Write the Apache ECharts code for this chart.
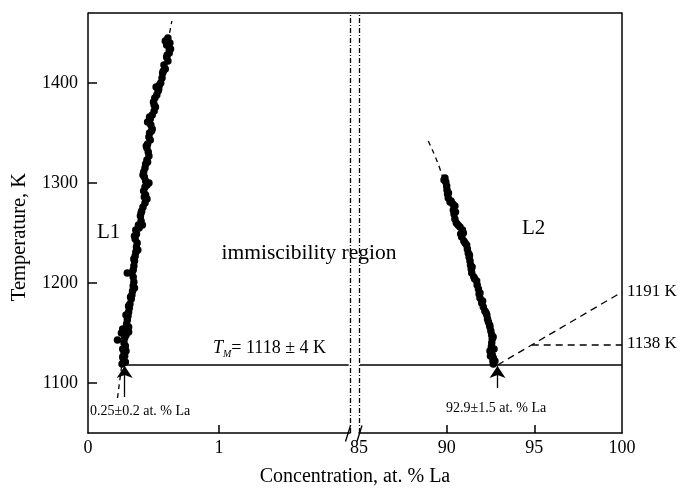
<!DOCTYPE html>
<html>
<head>
<meta charset="utf-8">
<script src="https://cdn.jsdelivr.net/npm/echarts@6/dist/echarts.min.js"></script>
<style>
  html, body { margin: 0; padding: 0; background: #fff; }
  #main { width: 681px; height: 492px; }
</style>
</head>
<body>
<div id="main"></div>
<script>
// L1 measured points (left, Sb-rich side)
var l1Conc = [0.61, 0.59, 0.60, 0.63, 0.62, 0.60, 0.61, 0.58, 0.59, 0.57, 0.565, 0.555, 0.545, 0.52, 0.535, 0.525, 0.51, 0.50, 0.515, 0.505,
  0.49, 0.475, 0.455, 0.48, 0.49, 0.47, 0.465, 0.475, 0.455, 0.45, 0.46, 0.465, 0.45, 0.44, 0.435, 0.425, 0.43, 0.44, 0.465, 0.435,
  0.425, 0.44, 0.45, 0.435, 0.42, 0.41, 0.40, 0.405, 0.415, 0.39, 0.365, 0.37, 0.36, 0.375, 0.37, 0.365, 0.36, 0.355, 0.35, 0.345,
  0.30, 0.345, 0.35, 0.345, 0.34, 0.335, 0.33, 0.32, 0.315, 0.31, 0.305, 0.30, 0.295, 0.265, 0.31, 0.29, 0.225, 0.275, 0.285, 0.265,
  0.275, 0.28, 0.27, 0.285, 0.26,
  0.625, 0.605, 0.575, 0.54, 0.505, 0.47, 0.485, 0.445, 0.455, 0.42, 0.45, 0.43, 0.405, 0.385, 0.355, 0.38, 0.35, 0.335, 0.355, 0.325,
  0.31, 0.29, 0.31, 0.255, 0.28, 0.29, 0.265];
var l1Temp = [1445, 1442, 1438, 1434, 1430, 1426, 1422, 1418, 1414, 1410, 1405, 1400, 1398, 1396, 1392, 1388, 1385, 1381, 1376, 1372,
  1368, 1364, 1361, 1358, 1354, 1350, 1346, 1343, 1339, 1335, 1331, 1327, 1323, 1319, 1315, 1311, 1306, 1302, 1300, 1296,
  1292, 1288, 1284, 1280, 1276, 1272, 1267, 1262, 1258, 1255, 1253, 1249, 1244, 1240, 1236, 1231, 1227, 1222, 1217, 1213,
  1210, 1206, 1201, 1197, 1192, 1188, 1184, 1179, 1175, 1171, 1167, 1163, 1159, 1154, 1151, 1148, 1143, 1140, 1137, 1134,
  1130, 1127, 1124, 1121, 1119,
  1440, 1428, 1412, 1394, 1378, 1366, 1352, 1337, 1321, 1308, 1298, 1286, 1270, 1258, 1247, 1233, 1224, 1210, 1195, 1186,
  1177, 1168, 1156, 1150, 1145, 1132, 1126];
// L1 liquidus curve (dashed)
var l1FitConc = [0.225, 0.255, 0.30, 0.335, 0.37, 0.41, 0.44, 0.47, 0.51, 0.56, 0.60, 0.64];
var l1FitTemp = [1085, 1115, 1160, 1200, 1240, 1275, 1310, 1350, 1385, 1410, 1435, 1462];

// L2 measured points (right, La-rich side)
var l2Conc = [89.90, 89.95, 90.00, 90.02, 90.05, 90.09, 90.19, 90.35, 90.47, 90.38, 90.42, 90.47, 90.55, 90.76, 90.90, 90.95, 90.86, 90.98, 91.14, 91.18,
  91.23, 91.28, 91.33, 91.36, 91.40, 91.43, 91.55, 91.71, 91.74, 91.81, 91.85, 91.90, 92.00, 92.09, 92.18, 92.29, 92.33, 92.38, 92.47, 92.52,
  92.57, 92.60, 92.57, 92.55, 92.47, 92.60, 92.66, 92.64, 92.66,
  89.85, 90.10, 90.25, 90.50, 90.65, 90.80, 91.05, 91.30, 91.45, 91.60, 91.90, 92.05, 92.25, 92.45, 92.65, 92.70, 92.50, 92.75];
var l2Temp = [1305, 1301, 1297, 1293, 1289, 1285, 1281, 1279, 1277, 1273, 1269, 1264, 1260, 1256, 1253, 1250, 1246, 1242, 1238, 1234,
  1230, 1226, 1222, 1218, 1214, 1210, 1206, 1202, 1198, 1194, 1189, 1185, 1180, 1176, 1172, 1168, 1164, 1161, 1156, 1152,
  1148, 1144, 1140, 1136, 1132, 1128, 1125, 1122, 1119,
  1303, 1290, 1282, 1271, 1258, 1249, 1240, 1228, 1216, 1204, 1190, 1182, 1170, 1158, 1146, 1134, 1127, 1122];
var l2FitConc = [88.95, 89.6, 90.1, 90.6, 91.2, 91.7, 92.2, 92.6, 92.75];
var l2FitTemp = [1342, 1315, 1285, 1260, 1230, 1200, 1170, 1140, 1118];

var tMonotectic = 1118;
var leftArrow = [0.28, 1086, 1117];
var rightArrow = [92.9, 1095, 1117];
var line1191 = [[92.9, 1118], [100, 1191]];
var line1138 = [[94.85, 1138], [100, 1138]];

var yTicks = [1100, 1200, 1300, 1400];
var xLeftTicks = [1], xLeftLabels = [0, 1];
var xRightTicks = [90, 95], xRightLabels = [85, 90, 95, 100];

function zip(a, b) { return a.map(function (v, i) { return [v, b[i]]; }); }

// layout
var GL = 88, GT = 13, GB = 433, BL = 350, BR = 359, GR = 622;
var FONT = '"Liberation Serif", "Times New Roman", serif';
var black = '#000';

var axisLineStyle = { show: true, lineStyle: { color: black, width: 1.5 } };
var labelStyle = { color: black, fontFamily: FONT, fontSize: 18, formatter: function (v) { return String(v); } };
var dashDot = [5, 2, 1, 2];

var chart = echarts.init(document.getElementById('main'));
chart.setOption({
  backgroundColor: '#fff',
  animation: false,
  grid: [
    { left: GL, top: GT, width: BL - GL, height: GB - GT },
    { left: BR, top: GT, width: GR - BR, height: GB - GT }
  ],
  xAxis: [
    {
      gridIndex: 0, type: 'value', min: 0, max: 2,
      axisLine: axisLineStyle,
      axisTick: { show: true, inside: true, length: 8, customValues: xLeftTicks, lineStyle: { color: black, width: 1.5 } },
      axisLabel: Object.assign({ customValues: xLeftLabels, margin: 6 }, labelStyle),
      splitLine: { show: false }
    },
    {
      gridIndex: 1, type: 'value', min: 85, max: 100,
      axisLine: axisLineStyle,
      axisTick: { show: true, inside: true, length: 8, customValues: xRightTicks, lineStyle: { color: black, width: 1.5 } },
      axisLabel: Object.assign({ customValues: xRightLabels, margin: 6 }, labelStyle),
      splitLine: { show: false }
    }
  ],
  yAxis: [
    {
      gridIndex: 0, type: 'value', min: 1050, max: 1470,
      axisLine: axisLineStyle,
      axisTick: { show: true, inside: true, length: 9, customValues: yTicks, lineStyle: { color: black, width: 1.5 } },
      axisLabel: Object.assign({ customValues: yTicks, margin: 10 }, labelStyle),
      splitLine: { show: false }
    },
    {
      gridIndex: 1, type: 'value', min: 1050, max: 1470, position: 'right',
      axisLine: axisLineStyle,
      axisTick: { show: false }, axisLabel: { show: false },
      splitLine: { show: false }
    }
  ],
  series: [
    {
      type: 'line', xAxisIndex: 0, yAxisIndex: 0, data: zip(l1FitConc, l1FitTemp),
      smooth: true, symbol: 'none', z: 1,
      lineStyle: { color: black, width: 1.3, type: [5, 4] }
    },
    {
      type: 'scatter', xAxisIndex: 0, yAxisIndex: 0, data: zip(l1Conc, l1Temp),
      symbolSize: 7.5, itemStyle: { color: black, opacity: 1 }, z: 3
    },
    {
      type: 'line', xAxisIndex: 0, yAxisIndex: 0,
      data: [[0.27, tMonotectic], [1.99, tMonotectic]],
      symbol: 'none', lineStyle: { color: black, width: 1.5 }, z: 2,
      markLine: {
        silent: true, symbol: ['none', 'arrow'], symbolSize: 12, animation: false,
        label: { show: false },
        data: [
          [{ coord: [leftArrow[0], leftArrow[1]], lineStyle: { type: 'solid' } }, { coord: [leftArrow[0], leftArrow[2]] }],
          [{ coord: [2, 1050], symbol: 'none', lineStyle: { type: dashDot } }, { coord: [2, 1470], symbol: 'none' }]
        ],
        lineStyle: { color: black, width: 1.3 }
      }
    },
    {
      type: 'line', xAxisIndex: 1, yAxisIndex: 1, data: zip(l2FitConc, l2FitTemp),
      smooth: true, symbol: 'none', z: 1,
      lineStyle: { color: black, width: 1.3, type: [5, 4] }
    },
    {
      type: 'scatter', xAxisIndex: 1, yAxisIndex: 1, data: zip(l2Conc, l2Temp),
      symbolSize: 7.5, itemStyle: { color: black, opacity: 1 }, z: 3
    },
    {
      type: 'line', xAxisIndex: 1, yAxisIndex: 1,
      data: [[85.05, tMonotectic], [100, tMonotectic]],
      symbol: 'none', lineStyle: { color: black, width: 1.5 }, z: 2,
      markLine: {
        silent: true, symbol: ['none', 'arrow'], symbolSize: 12, animation: false,
        label: { show: false },
        data: [
          [{ coord: [rightArrow[0], rightArrow[1]], lineStyle: { type: 'solid' } }, { coord: [rightArrow[0], rightArrow[2]] }],
          [{ coord: [85, 1050], symbol: 'none', lineStyle: { type: dashDot } }, { coord: [85, 1470], symbol: 'none' }]
        ],
        lineStyle: { color: black, width: 1.3 }
      }
    },
    {
      type: 'line', xAxisIndex: 1, yAxisIndex: 1, data: line1191,
      symbol: 'none', lineStyle: { color: black, width: 1.3, type: [7, 5] }
    },
    {
      type: 'line', xAxisIndex: 1, yAxisIndex: 1, data: line1138,
      symbol: 'none', lineStyle: { color: black, width: 1.3, type: [7, 5] }
    }
  ],
  graphic: [
    { type: 'line', shape: { x1: GL, y1: GT, x2: GR, y2: GT }, style: { stroke: black, lineWidth: 1.5 } },
    { type: 'line', shape: { x1: 345.5, y1: 441.5, x2: 350.5, y2: 425.5 }, style: { stroke: black, lineWidth: 1.3 } },
    { type: 'line', shape: { x1: 357, y1: 441.5, x2: 362, y2: 425.5 }, style: { stroke: black, lineWidth: 1.3 } },
    { type: 'text', x: 20, y: 237, rotation: Math.PI / 2,
      style: { text: 'Temperature, K', font: '20.5px ' + FONT, fill: black, textAlign: 'center', textVerticalAlign: 'middle' } },
    { type: 'text', x: 355, y: 477,
      style: { text: 'Concentration, at. % La', font: '20px ' + FONT, fill: black, textAlign: 'center', textVerticalAlign: 'middle' } },
    { type: 'text', x: 97, y: 232,
      style: { text: 'L1', font: '21px ' + FONT, fill: black, textVerticalAlign: 'middle' } },
    { type: 'text', x: 522, y: 228,
      style: { text: 'L2', font: '21px ' + FONT, fill: black, textVerticalAlign: 'middle' } },
    { type: 'text', x: 309, y: 253,
      style: { text: 'immiscibility region', font: '21.5px ' + FONT, fill: black, textAlign: 'center', textVerticalAlign: 'middle' } },
    { type: 'text', x: 213, y: 348,
      style: {
        text: '{i|T}{s|M}{n|= 1118 ± 4 K}', textVerticalAlign: 'middle',
        rich: {
          i: { fontFamily: FONT, fontSize: 18, fontStyle: 'italic', fill: black },
          s: { fontFamily: FONT, fontSize: 10, fontStyle: 'italic', fill: black, padding: [12, 0, 0, 0] },
          n: { fontFamily: FONT, fontSize: 18, fill: black }
        }
      } },
    { type: 'text', x: 90, y: 411,
      style: { text: '0.25±0.2 at. % La', font: '14px ' + FONT, fill: black, textVerticalAlign: 'middle' } },
    { type: 'text', x: 446, y: 408,
      style: { text: '92.9±1.5 at. % La', font: '14px ' + FONT, fill: black, textVerticalAlign: 'middle' } },
    { type: 'text', x: 627, y: 292,
      style: { text: '1191 K', font: '17px ' + FONT, fill: black, textVerticalAlign: 'middle' } },
    { type: 'text', x: 627, y: 344,
      style: { text: '1138 K', font: '17px ' + FONT, fill: black, textVerticalAlign: 'middle' } }
  ]
});
</script>
</body>
</html>
